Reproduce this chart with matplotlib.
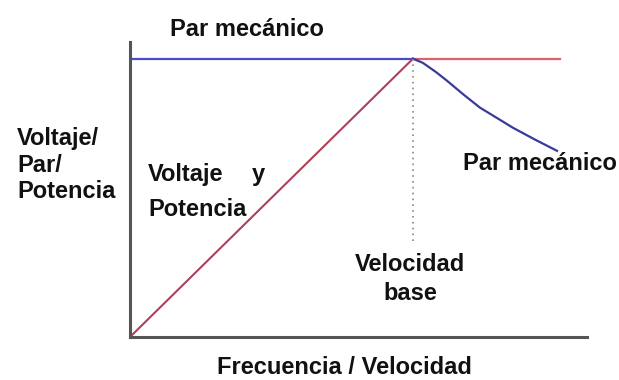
import matplotlib.pyplot as plt

# Curves (x = frequency / speed relative to base speed, y = relative value)
torque_x = [0.0, 1.0]
torque_y = [1.0, 1.0]
power_flat_x = [1.0, 1.52]
power_flat_y = [1.0, 1.0]
voltage_x = [0.0, 1.0]
voltage_y = [0.0, 1.0]
torque_drop_x = [1.0, 1.035, 1.08, 1.12, 1.18, 1.237, 1.30, 1.353, 1.43, 1.509]
torque_drop_y = [1.0, 0.985, 0.953, 0.921, 0.87, 0.824, 0.785, 0.752, 0.71, 0.669]
base_speed = 1.0
base_marker_bottom = 0.345

fig = plt.figure(figsize=(6.19, 3.8), dpi=100)
ax = fig.add_axes([130 / 619, 1 - 337 / 380, (587 - 130) / 619, (337 - 42) / 380])

ax.plot(torque_x, torque_y, color='#4a4ad0', linewidth=1.6)
ax.plot(power_flat_x, power_flat_y, color='#e0606e', linewidth=1.6)
ax.plot(voltage_x, voltage_y, color='#b04058', linewidth=1.5)
ax.plot(torque_drop_x, torque_drop_y, color='#3a3a9a', linewidth=1.6)
ax.plot([base_speed, base_speed], [base_marker_bottom, 1.0], color='#888888',
        linewidth=1.2, linestyle=(0, (1, 2.5)))

ax.set_xlim(0, 1.615)
ax.set_ylim(0, 1.06)
ax.set_xticks([])
ax.set_yticks([])
for side in ['top', 'right']:
    ax.spines[side].set_visible(False)
for side in ['left', 'bottom']:
    ax.spines[side].set_color('#555555')
    ax.spines[side].set_linewidth(2.2)

txt = dict(fontsize=17, fontweight='bold', color='#111111', family='Liberation Sans')
fig.text(247 / 619, 1 - 29 / 380, 'Par mecánico', ha='center', va='center', **txt)
fig.text(17 / 619, 1 - 165 / 380, 'Voltaje/\nPar/\nPotencia', ha='left', va='center',
         linespacing=1.22, **txt)
fig.text(148 / 619, 1 - 175 / 380, 'Voltaje', ha='left', va='center', **txt)
fig.text(258 / 619, 1 - 175 / 380, 'y', ha='center', va='center', **txt)
fig.text(148 / 619, 1 - 209 / 380, 'Potencia', ha='left', va='center', **txt)
fig.text(540 / 619, 1 - 164 / 380, 'Par mecánico', ha='center', va='center', **txt)
fig.text(410 / 619, 1 - 279 / 380, 'Velocidad\nbase', ha='center', va='center',
         linespacing=1.3, **txt)
fig.text(344 / 619, 1 - 367 / 380, 'Frecuencia / Velocidad', ha='center', va='center', **txt)

fig.savefig('out.png', dpi=100)
